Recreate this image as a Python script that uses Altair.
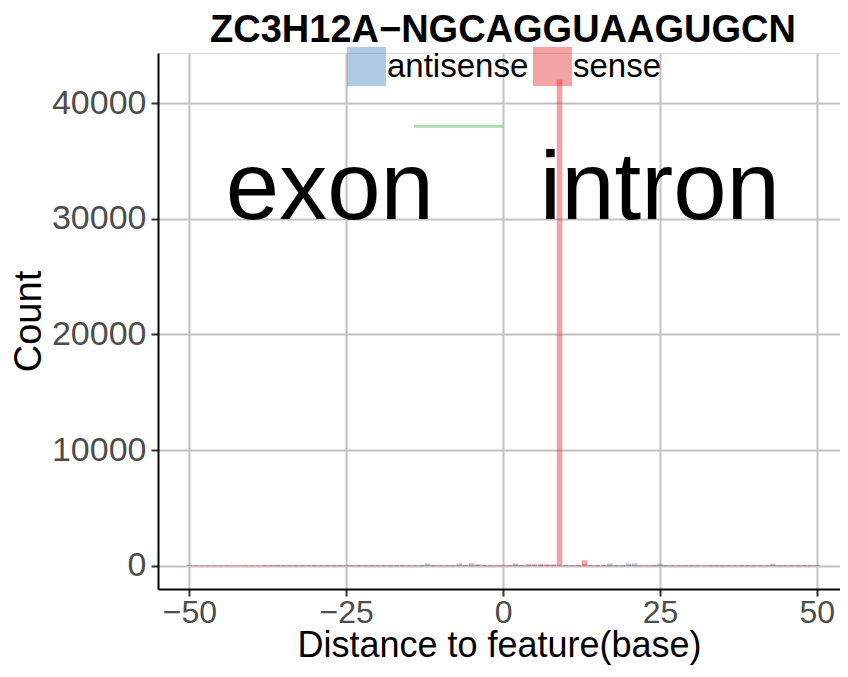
import altair as alt
import pandas as pd

# ---- data ----
positions = list(range(-50, 51))

sense_counts = [
    95, 88, 92, 85, 90, 87, 93, 84, 89, 91, 86, 90,            # -50..-39
    80, 75, 82, 78, 70, 76, 81, 74, 79, 72, 77, 73,            # -38..-27
    80, 71, 75, 78, 70, 74, 76, 72, 79, 73, 77, 70,            # -26..-15
    75, 78, 72, 74, 76, 71, 73, 77, 75, 78, 150, 72, 74, 70,   # -14..-1
    80, 85, 90, 85, 150, 150, 90, 140, 140,                    # 0..8
    42000,                                                     # 9
    80, 70, 90,                                                # 10..12
    500,                                                       # 13
    75, 72, 78, 70, 74, 76, 73, 77, 71, 75, 78, 72,            # 14..25
    74, 76, 70, 73, 77, 75, 72, 78, 74, 71, 76, 73,            # 26..37
    75, 77, 72, 74, 70, 76, 73, 75, 78, 72, 74, 71, 76,        # 38..50
]

antisense_counts = [
    0, 0, 0, 0, 0, 0, 0, 0, 0, 0, 0, 0,                        # -50..-39
    75, 72, 78, 70, 74, 76, 73, 77, 71, 75, 78, 72,            # -38..-27
    74, 76, 70, 73, 77, 75, 72, 78, 74, 71, 76, 73,            # -26..-15
    75, 77, 210, 74, 70, 76, 73, 210, 78, 220, 74, 71, 76, 73, # -14..-1
    75, 72, 210, 70, 74, 76, 180, 73, 77,                      # 0..8
    75,                                                        # 9
    72, 78, 74,                                                # 10..12
    150,                                                       # 13
    71, 76, 73, 220, 77, 72, 210, 220, 74, 70, 76, 200,        # 14..25
    73, 77, 75, 72, 78, 74, 71, 76, 73, 75, 77, 72,            # 26..37
    74, 70, 76, 73, 75, 200, 72, 74, 71, 76, 73, 75, 70,       # 38..50
]

strands = ["antisense", "sense"]
strand_colors = ["#377EB8", "#E41A1C"]

segment_x = [-14.2]
segment_x2 = [0.0]
segment_y = [38000]

label_texts = ["exon", "intron"]
label_x = [-27.6, 25.0]
label_y = [30000, 30000]

x_ticks = [-50, -25, 0, 25, 50]
y_ticks = [0, 10000, 20000, 30000, 40000]

title_text = ["ZC3H12A\u2212NGCAGGUAAGUGCN"]

# ---- tables ----
bars = pd.DataFrame({
    "pos": positions * 2,
    "count": antisense_counts + sense_counts,
    "strand": ["antisense"] * len(positions) + ["sense"] * len(positions),
})
seg = pd.DataFrame({"x": segment_x, "x2": segment_x2, "y": segment_y})
labels = pd.DataFrame({"t": label_texts, "x": label_x, "y": label_y})
titles = pd.DataFrame({"t": title_text})

FONT = "Liberation Sans"
W, H = 682, 536

xscale = alt.Scale(domain=[-55, 53.7], nice=False, zero=False)
yscale = alt.Scale(domain=[-1990, 44320], nice=False, zero=False)

xaxis = alt.Axis(
    values=x_ticks, title="Distance to feature(base)", grid=True,
    labelFontSize=32, titleFontSize=36, labelColor="#4D4D4D", titleColor="black",
    labelFont=FONT, titleFont=FONT, titleFontWeight="normal",
    tickSize=7, tickWidth=2, tickColor="#333333", labelPadding=1, titlePadding=0,
    domainColor="black", domainWidth=2, gridColor="#C2C2C2", gridWidth=2,
)
yaxis = alt.Axis(
    values=y_ticks, title="Count", grid=True, format="d",
    labelFontSize=34, titleFontSize=38, labelColor="#4D4D4D", titleColor="black",
    labelFont=FONT, titleFont=FONT, titleFontWeight="normal",
    tickSize=7, tickWidth=2, tickColor="#333333", labelPadding=5, titlePadding=3,
    domainColor="black", domainWidth=2, gridColor="#C2C2C2", gridWidth=2,
)

bar_layer = alt.Chart(bars).transform_calculate(
    x0="datum.pos - 0.45", x1="datum.pos + 0.45"
).mark_bar(opacity=0.4).encode(
    x=alt.X("x0:Q", scale=xscale, axis=xaxis),
    x2="x1:Q",
    y=alt.Y("count:Q", scale=yscale, axis=yaxis, stack=None),
    y2=alt.datum(0),
    color=alt.Color(
        "strand:N",
        scale=alt.Scale(domain=strands, range=strand_colors),
        legend=alt.Legend(
            title=None, orient="none", legendX=189, legendY=-6,
            direction="horizontal", symbolType="square", symbolSize=1521,
            symbolOpacity=0.4, symbolStrokeWidth=0, labelFontSize=33,
            labelFont=FONT, labelColor="black", labelOffset=1,
            columnPadding=4, padding=0,
        ),
    ),
)

seg_layer = alt.Chart(seg).mark_rule(color="#4DAF4A", opacity=0.45, strokeWidth=3).encode(
    x=alt.X("x:Q", scale=xscale),
    x2="x2:Q",
    y=alt.Y("y:Q", scale=yscale),
)

text_layer = alt.Chart(labels).mark_text(
    fontSize=96, font=FONT, color="black", align="center", baseline="alphabetic"
).encode(
    x=alt.X("x:Q", scale=xscale),
    y=alt.Y("y:Q", scale=yscale),
    text="t:N",
)

title_layer = alt.Chart(titles).mark_text(
    fontSize=38, font=FONT, fontWeight="bold", color="black",
    align="center", baseline="alphabetic"
).encode(
    x=alt.value(345),
    y=alt.value(-11),
    text="t:N",
)

chart = alt.layer(bar_layer, seg_layer, text_layer, title_layer).properties(
    width=W, height=H,
    autosize=alt.AutoSizeParams(type="none"),
    padding={"left": 150, "top": 45, "right": 0, "bottom": 76},
).configure_view(stroke=None).configure(background="white")

chart.save("out.html", embed_options={"renderer": "svg", "actions": False})
